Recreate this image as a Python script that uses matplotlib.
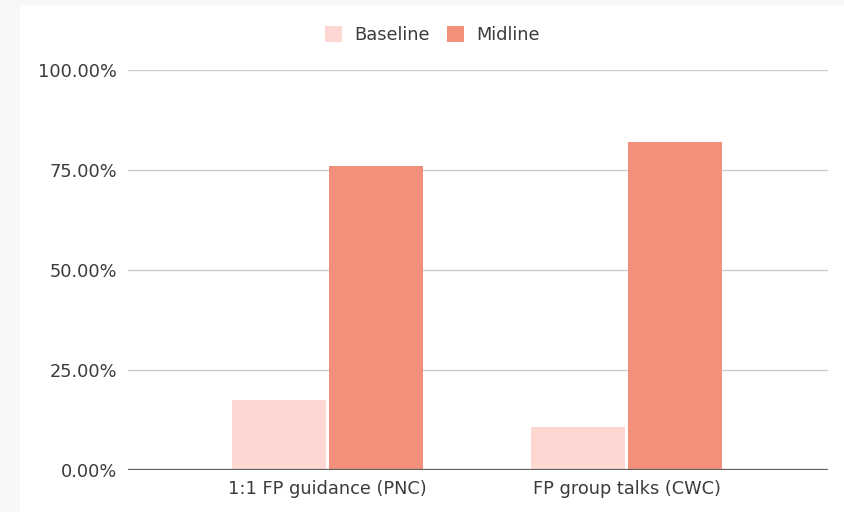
import numpy as np
import matplotlib
matplotlib.use('Agg')
import matplotlib.pyplot as plt
from matplotlib.patches import Rectangle
from matplotlib.ticker import FuncFormatter

plt.rcParams['font.family'] = ['DejaVu Sans']

categories = ['1:1 FP guidance (PNC)', 'FP group talks (CWC)']
series_names = ['Baseline', 'Midline']
baseline = [17.5, 10.8]
midline = [76.0, 82.1]
y_ticks = [0, 25, 50, 75, 100]

colors = ['#fdd8d2', '#f3907c']
text_color = '#3c3c3c'

fig = plt.figure(figsize=(8.44, 5.12), dpi=100, facecolor='#f8f8f8')
# white card with a thin grey margin on left/top
fig.patches.append(Rectangle((20 / 844, 0), 1, 1 - 6 / 512,
                             transform=fig.transFigure, facecolor='white',
                             edgecolor='none', zorder=-10))

ax = fig.add_axes([128 / 844, 1 - 470 / 512, 700 / 844, 400 / 512])
ax.set_facecolor('none')

x = np.arange(len(categories))
w = 0.314
gap = 0.005
ax.bar(x - w / 2 - gap, baseline, width=w, color=colors[0],
       label=series_names[0], zorder=3)
ax.bar(x + w / 2 + gap, midline, width=w, color=colors[1],
       label=series_names[1], zorder=3)

ax.set_xlim(-0.667, 1.672)
ax.set_ylim(0, 100)
ax.set_yticks(y_ticks)
ax.yaxis.set_major_formatter(FuncFormatter(lambda v, p: '%.2f%%' % v))
ax.set_xticks(x)
ax.set_xticklabels(categories)

ax.grid(axis='y', color='#cccccc', linewidth=1.0, zorder=0)
ax.axhline(0, color='#5f5f5f', linewidth=1.6, zorder=4)
for s in ax.spines.values():
    s.set_visible(False)
ax.tick_params(axis='both', length=0, labelsize=12.8, colors=text_color)
ax.tick_params(axis='y', pad=8)
ax.tick_params(axis='x', pad=7)

fig.legend(loc='center', bbox_to_anchor=(432.5 / 844, 1 - 35 / 512), ncol=2,
           frameon=False, handlelength=0.95, handleheight=0.95,
           handletextpad=0.7, columnspacing=1.0, fontsize=12.8,
           labelcolor=text_color)

fig.savefig('out.png', dpi=100, facecolor=fig.get_facecolor())
